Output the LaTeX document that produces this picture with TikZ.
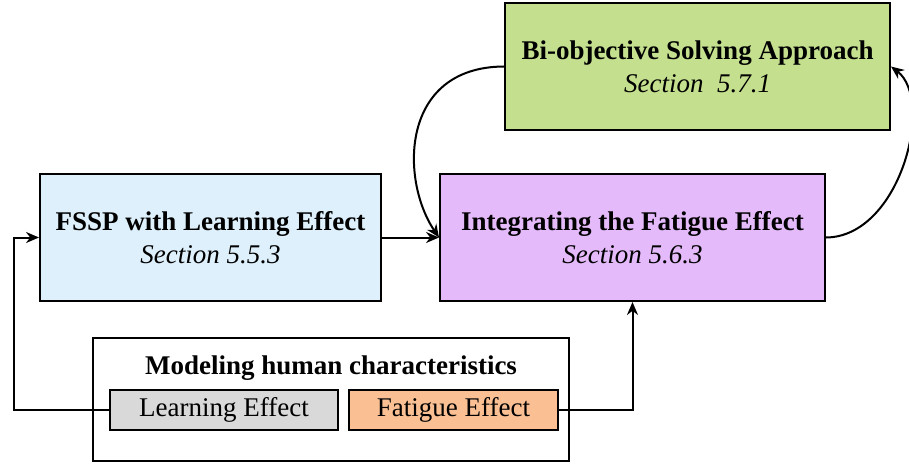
\documentclass[tikz,border=0pt]{standalone}
\usepackage{fontspec}
\setmainfont{Liberation Serif}
\usetikzlibrary{arrows.meta}
\definecolor{approachgreen}{RGB}{196,223,142}
\definecolor{fsspblue}{RGB}{221,240,251}
\definecolor{fatiguepurple}{RGB}{229,186,250}
\definecolor{learngray}{RGB}{217,217,217}
\definecolor{fatigueorange}{RGB}{250,192,148}
\tikzstyle{arrow} = [line width=2pt,-{Stealth[length=13pt,width=11pt]}]
\tikzstyle{bigbox} = [draw, line width=2pt, align=center, minimum height=127pt, font=\fontsize{27}{33}\selectfont]
\tikzstyle{smallbox} = [draw, line width=1.5pt, minimum height=40pt, font=\fontsize{27}{33}\selectfont]

\begin{document}
\begin{tikzpicture}[x=1pt,y=-1pt]
\useasboundingbox (0,0) rectangle (909,465);
\node[bigbox, fill=approachgreen, minimum width=385pt] (approach) at (697.5,66.5) {\textbf{Bi-objective Solving Approach}\\\textit{Section\ \ 5.7.1}};
\node[bigbox, fill=fsspblue, minimum width=341pt] (fssp) at (210.5,237.5) {\textbf{FSSP with Learning Effect}\\\textit{Section 5.5.3}};
\node[bigbox, fill=fatiguepurple, minimum width=385pt] (integ) at (632.5,237.5) {\textbf{Integrating the Fatigue Effect}\\\textit{Section 5.6.3}};
\node[draw, line width=2pt, minimum width=476pt, minimum height=123pt] (human) at (331,399.5) {};
\node[font=\fontsize{27}{33}\selectfont\bfseries] (humantitle) at (331,368) {Modeling human characteristics};
\node[smallbox, fill=learngray, minimum width=228pt] (learning) at (224,410) {Learning Effect};
\node[smallbox, fill=fatigueorange, minimum width=209pt] (fatigue) at (453.5,410) {Fatigue Effect};
\coordinate (lcorner) at (14,410);
\draw[arrow] (fssp.east) -- (integ.west);
\draw[arrow] (approach.west) .. controls (400,67) and (400,180) .. (integ.west);
\draw[arrow] (integ.east) .. controls (900,237) and (935,100) .. (approach.east);
\draw[arrow] (learning.west) -- (lcorner) |- (fssp.west);
\draw[arrow] (fatigue.east) -| (integ.south);
\end{tikzpicture}
\end{document}
